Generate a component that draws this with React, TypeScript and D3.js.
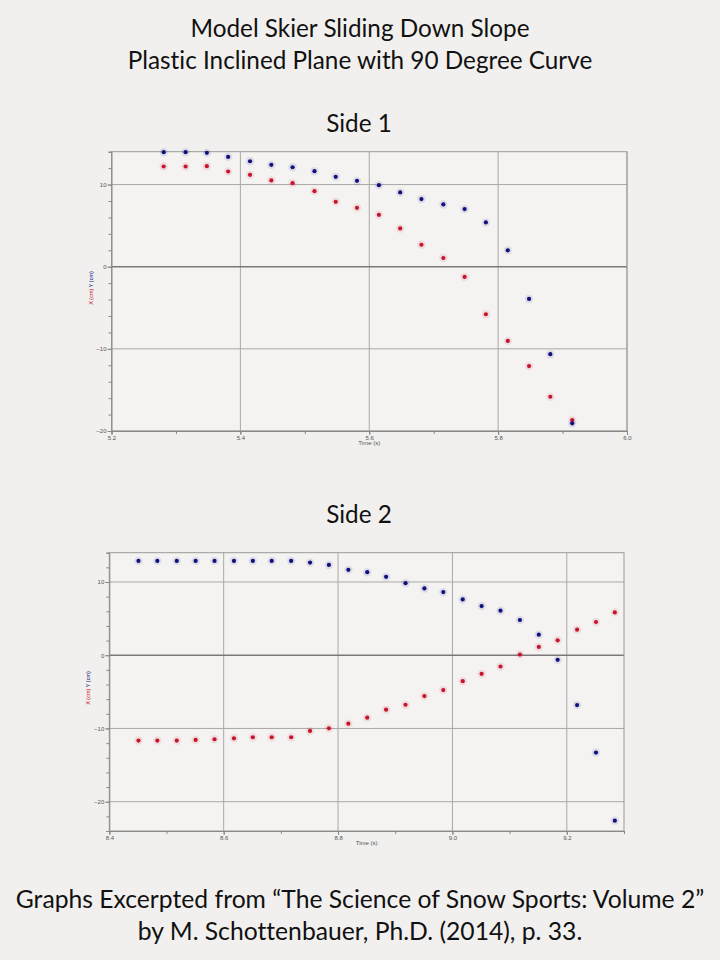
import * as d3 from 'd3';
import { useEffect, useRef } from 'react';

// Side 1 readings (time in s, positions in cm)
const side1Time = [5.281, 5.315, 5.348, 5.381, 5.415, 5.448, 5.481, 5.515, 5.548, 5.581,
    5.615, 5.648, 5.681, 5.715, 5.748, 5.781, 5.815, 5.848, 5.881, 5.915];
const side1X = [12.2, 12.2, 12.24, 11.59, 11.18, 10.5, 10.17, 9.2, 7.9, 7.17,
    6.32, 4.66, 2.67, 1.06, -1.25, -5.79, -9.03, -12.1, -15.83, -18.67];
const side1Y = [13.94, 13.94, 13.86, 13.37, 12.84, 12.4, 12.11, 11.63, 10.94, 10.45,
    9.93, 9.04, 8.23, 7.58, 7.01, 5.39, 1.99, -3.92, -10.65, -19.07];

// Side 2 readings
const side2Time = [8.451, 8.484, 8.518, 8.551, 8.584, 8.618, 8.651, 8.684, 8.718, 8.751,
    8.784, 8.818, 8.851, 8.884, 8.918, 8.951, 8.984, 9.018, 9.051, 9.084,
    9.118, 9.151, 9.184, 9.218, 9.251, 9.284];
const side2X = [-11.65, -11.65, -11.65, -11.56, -11.47, -11.34, -11.2, -11.2, -11.2, -10.34,
    -9.98, -9.34, -8.53, -7.44, -6.76, -5.58, -4.76, -3.54, -2.54, -1.54,
    0.09, 1.13, 2.04, 3.49, 4.54, 5.85];
const side2Y = [12.88, 12.88, 12.88, 12.88, 12.88, 12.88, 12.88, 12.88, 12.88, 12.65,
    12.33, 11.66, 11.34, 10.7, 9.84, 9.12, 8.62, 7.62, 6.71, 6.08,
    4.81, 2.81, -0.63, -6.8, -13.29, -22.59];

const side1XTicks = [5.2, 5.4, 5.6, 5.8, 6.0];
const side2XTicks = [8.4, 8.6, 8.8, 9.0, 9.2];
const side1YTicks = [-20, -10, 0, 10];
const side2YTicks = [-20, -10, 0, 10];

const titleLines = ['Model Skier Sliding Down Slope', 'Plastic Inclined Plane with 90 Degree Curve'];
const footLines = ['Graphs Excerpted from \u201cThe Science of Snow Sports: Volume 2\u201d',
    'by M. Schottenbauer, Ph.D. (2014), p. 33.'];

const BLUE = '#10107e';
const RED = '#c8142c';
const GRID = '#a9a8a6';
const FONT = 'Lato, "Open Sans", sans-serif';

const App = () => {
    const ref = useRef<SVGSVGElement>(null);
    useEffect(() => {
        drawChart();
    }, []);

    const drawPanel = (svg: any, opt: any) => {
        var x: any = d3.scaleLinear().domain(opt.xDomain).range([opt.left, opt.right]);
        var y: any = d3.scaleLinear().domain(opt.yDomain).range([opt.bottom, opt.top]);
        var g = svg.append('g');

        g.append('rect')
            .attr('x', opt.left).attr('y', opt.top)
            .attr('width', opt.right - opt.left).attr('height', opt.bottom - opt.top)
            .attr('fill', '#f4f3f1');

        // grid
        g.selectAll('.vgrid').data(opt.xTicks.slice(1)).enter().append('line')
            .attr('x1', (d: number) => x(d)).attr('x2', (d: number) => x(d))
            .attr('y1', opt.top).attr('y2', opt.bottom)
            .attr('stroke', GRID).attr('stroke-width', 1);
        g.selectAll('.hgrid').data(opt.yTicks).enter().append('line')
            .attr('x1', opt.left).attr('x2', opt.right)
            .attr('y1', (d: number) => y(d)).attr('y2', (d: number) => y(d))
            .attr('stroke', (d: number) => d === 0 ? '#7a7977' : GRID)
            .attr('stroke-width', (d: number) => d === 0 ? 1.4 : 1);

        // frame
        g.append('rect')
            .attr('x', opt.left).attr('y', opt.top)
            .attr('width', opt.right - opt.left).attr('height', opt.bottom - opt.top)
            .attr('fill', 'none').attr('stroke', '#9a9997').attr('stroke-width', 1);

        // axes
        var minorY = d3.range(opt.yDomain[0], opt.yDomain[1] + 0.01, 2);
        g.append('g')
            .attr('transform', 'translate(' + opt.left + ',0)')
            .call(d3.axisLeft(y).tickValues(minorY).tickSize(3).tickFormat(() => ''))
            .call((s: any) => s.select('.domain').attr('stroke', '#8a8987'))
            .call((s: any) => s.selectAll('.tick line').attr('stroke', '#8a8987'));
        g.append('g')
            .attr('transform', 'translate(' + opt.left + ',0)')
            .call(d3.axisLeft(y).tickValues(opt.yTicks).tickSize(4).tickPadding(1).tickFormat(d3.format('d')))
            .call((s: any) => s.select('.domain').remove())
            .call((s: any) => s.selectAll('.tick line').attr('stroke', '#8a8987'))
            .call((s: any) => s.selectAll('text').attr('font-size', 6).attr('fill', '#555')
                .attr('font-family', 'Liberation Sans, Arial, sans-serif'));

        var minorX = d3.range(opt.xDomain[0], opt.xDomain[1] + 0.001, 0.1);
        g.append('g')
            .attr('transform', 'translate(0,' + opt.bottom + ')')
            .call(d3.axisBottom(x).tickValues(minorX).tickSize(3).tickFormat(() => ''))
            .call((s: any) => s.select('.domain').attr('stroke', '#8a8987'))
            .call((s: any) => s.selectAll('.tick line').attr('stroke', '#8a8987'));
        g.append('g')
            .attr('transform', 'translate(0,' + opt.bottom + ')')
            .call(d3.axisBottom(x).tickValues(opt.xTicks).tickSize(4).tickPadding(1).tickFormat(d3.format('.1f')))
            .call((s: any) => s.select('.domain').remove())
            .call((s: any) => s.selectAll('.tick line').attr('stroke', '#8a8987'))
            .call((s: any) => s.selectAll('text').attr('font-size', 6).attr('fill', '#555')
                .attr('font-family', 'Liberation Sans, Arial, sans-serif'));

        // axis labels
        g.append('text')
            .attr('x', (opt.left + opt.right) / 2).attr('y', opt.bottom + 14)
            .attr('text-anchor', 'middle')
            .attr('font-size', 6).attr('fill', '#555')
            .attr('font-family', 'Liberation Sans, Arial, sans-serif')
            .text('Time (s)');
        var yl = g.append('text')
            .attr('text-anchor', 'middle')
            .attr('font-size', 5.5)
            .attr('font-family', 'Liberation Sans, Arial, sans-serif')
            .attr('transform', 'translate(' + (opt.left - 19) + ',' + opt.labelY + ')rotate(-90)');
        yl.append('tspan').attr('fill', RED).text('X (cm)');
        yl.append('tspan').attr('fill', BLUE).text('  Y (cm)');

        // points
        var series = [{ v: opt.xs, c: RED }, { v: opt.ys, c: BLUE }];
        series.forEach((s) => {
            var pts = g.append('g');
            pts.selectAll('.halo').data(s.v).enter().append('circle')
                .attr('cx', (_d: number, i: number) => x(opt.time[i]))
                .attr('cy', (d: number) => y(d))
                .attr('r', 4.2)
                .attr('fill', s.c).attr('fill-opacity', 0.1);
            pts.selectAll('.dot').data(s.v).enter().append('circle')
                .attr('cx', (_d: number, i: number) => x(opt.time[i]))
                .attr('cy', (d: number) => y(d))
                .attr('r', 2.1)
                .attr('fill', s.c);
        });
    };

    const drawChart = () => {
        var svg = d3.select(ref.current);
        svg.selectAll('*').remove();
        svg.append('rect').attr('width', 720).attr('height', 960).attr('fill', '#f1f0ee');

        var heading = svg.append('g')
            .attr('font-family', FONT).attr('fill', '#111')
            .attr('text-anchor', 'middle')
            .style('font-variant-ligatures', 'none');
        heading.selectAll('.title').data(titleLines).enter().append('text')
            .attr('x', 360).attr('y', (_d: string, i: number) => 37 + i * 32)
            .attr('font-size', 24.3)
            .text((d: string) => d);
        heading.append('text').attr('x', 359).attr('y', 132)
            .attr('font-size', 24.3).text('Side 1');
        heading.append('text').attr('x', 359).attr('y', 523)
            .attr('font-size', 24.3).text('Side 2');
        heading.selectAll('.foot').data(footLines).enter().append('text')
            .attr('x', 360).attr('y', (_d: string, i: number) => 908 + i * 32)
            .attr('font-size', 24.7)
            .text((d: string) => d);

        drawPanel(svg, {
            left: 111.5, right: 627, top: 151.7, bottom: 431,
            xDomain: [5.2, 6.0], yDomain: [-20, 14],
            xTicks: side1XTicks, yTicks: side1YTicks,
            time: side1Time, xs: side1X, ys: side1Y, labelY: 288,
        });
        drawPanel(svg, {
            left: 109.3, right: 624, top: 552.7, bottom: 831,
            xDomain: [8.4, 9.3], yDomain: [-24, 14],
            xTicks: side2XTicks, yTicks: side2YTicks,
            time: side2Time, xs: side2X, ys: side2Y, labelY: 688,
        });
    };

    return (
        <div style={{ position: 'absolute', left: 0, top: 0 }}>
            <svg ref={ref} width={720} height={960} style={{ display: 'block' }}></svg>
        </div>
    );
};
export default App;
